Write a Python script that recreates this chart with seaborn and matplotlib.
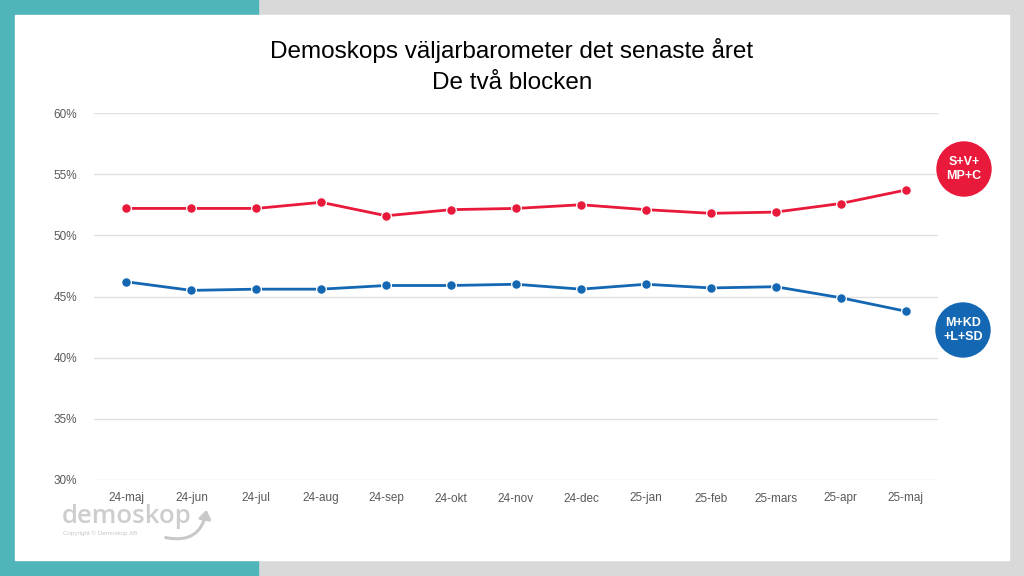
import matplotlib
matplotlib.use("Agg")
import matplotlib.pyplot as plt
import seaborn as sns
import pandas as pd
from matplotlib.patches import Rectangle, Circle, FancyArrowPatch
from matplotlib.transforms import IdentityTransform
from matplotlib.ticker import FuncFormatter

# ---------------------- data ---------------------- #
months = ["24-maj", "24-jun", "24-jul", "24-aug", "24-sep", "24-okt", "24-nov",
          "24-dec", "25-jan", "25-feb", "25-mars", "25-apr", "25-maj"]
red_bloc = [52.2, 52.2, 52.2, 52.7, 51.6, 52.1, 52.2, 52.5, 52.1, 51.8, 51.9, 52.6, 53.7]
blue_bloc = [46.2, 45.5, 45.6, 45.6, 45.9, 45.9, 46.0, 45.6, 46.0, 45.7, 45.8, 44.9, 43.8]
bloc_names = ["S+V+MP+C", "M+KD+L+SD"]
bloc_labels = ["S+V+\nMP+C", "M+KD\n+L+SD"]
y_ticks = [30, 35, 40, 45, 50, 55, 60]

RED = "#E8193A"
BLUE = "#1467B3"
TEAL = "#4FB5B9"
GREY_BG = "#D9D9D9"

df = pd.DataFrame({
    "month": months * 2,
    "share": red_bloc + blue_bloc,
    "bloc": [bloc_names[0]] * len(months) + [bloc_names[1]] * len(months),
})

# ---------------------- figure & background ---------------------- #
sns.set_style("white")
plt.rcParams["font.family"] = ["Liberation Sans", "DejaVu Sans"]

fig = plt.figure(figsize=(10.24, 5.76), dpi=100)
W, H = 1024, 576

def px_rect(x0, y0, x1, y1, color):
    # rectangle in top-left pixel coords
    fig.patches.append(Rectangle((x0 / W, 1 - y1 / H), (x1 - x0) / W, (y1 - y0) / H,
                                 transform=fig.transFigure, color=color, zorder=-10))

px_rect(0, 0, W, H, GREY_BG)
px_rect(0, 0, 258, 15, TEAL)
px_rect(0, 0, 15, H, TEAL)
px_rect(0, 560, 258, H, TEAL)
px_rect(15, 15, 1009, 560, "white")

# ---------------------- chart ---------------------- #
ax = fig.add_axes([94 / W, 1 - 480 / H, (938 - 94) / W, (480 - 113) / H])
ax.set_facecolor("none")

sns.lineplot(data=df, x="month", y="share", hue="bloc", sort=False,
             palette=[RED, BLUE], marker="o", markersize=7,
             markeredgecolor="white", markeredgewidth=0.9, linewidth=2,
             legend=False, ax=ax, zorder=3)

ax.set_ylim(30, 60)
ax.set_xlim(-0.5, len(months) - 0.5)
ax.set_yticks(y_ticks)
ax.yaxis.set_major_formatter(FuncFormatter(lambda v, p: f"{v:.0f}%"))
ax.grid(axis="y", color="#E0E0E0", linewidth=1)
ax.grid(axis="x", visible=False)
for s in ax.spines.values():
    s.set_visible(False)
ax.tick_params(axis="both", length=0, labelsize=8.5, labelcolor="#595959")
ax.tick_params(axis="y", pad=12)
ax.tick_params(axis="x", pad=9)
ax.set_xlabel("")
ax.set_ylabel("")

# title
fig.text(0.5, 1 - 58 / H, "Demoskops väljarbarometer det senaste året",
         ha="center", va="baseline", fontsize=17.5, color="black")
fig.text(0.5, 1 - 89 / H, "De två blocken",
         ha="center", va="baseline", fontsize=17.5, color="black")

# bloc badges
for (cx, cy), col, lab in [((964, 169), RED, bloc_labels[0]),
                           ((963, 330), BLUE, bloc_labels[1])]:
    fig.patches.append(Circle((cx, H - cy), 27, transform=IdentityTransform(),
                              color=col, zorder=5))
    fig.text(cx / W, 1 - cy / H, lab, ha="center", va="center", fontsize=9,
             fontweight="bold", color="white", linespacing=1.25, zorder=6)

# logo
fig.text(62 / W, 1 - 523 / H, "demoskop", fontsize=18.5, color="#CDCDCD",
         ha="left", va="baseline", fontweight="semibold",
         family=["Open Sans", "DejaVu Sans"])
fig.text(63 / W, 1 - 533 / H, "Copyright © Demoskop AB", fontsize=4.5,
         color="#C8C8C8", ha="left", va="center")
arrow = FancyArrowPatch((163 / W, 1 - 537 / H), (207 / W, 1 - 507 / H),
                        transform=fig.transFigure,
                        connectionstyle="arc3,rad=0.55", arrowstyle="-|>,head_length=5,head_width=3.5",
                        color="#C8C8C8", linewidth=2.2)
fig.patches.append(arrow)

fig.savefig("out.png", dpi=100)
